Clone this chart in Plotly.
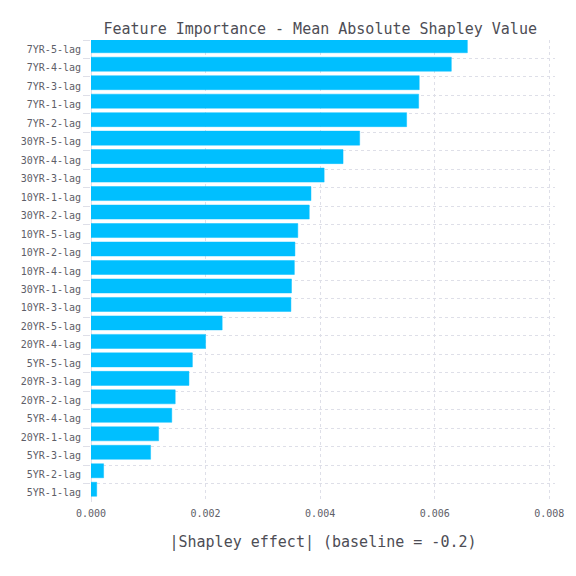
import plotly.graph_objects as go

# features, top to bottom
features = [
    "7YR-5-lag", "7YR-4-lag", "7YR-3-lag", "7YR-1-lag", "7YR-2-lag",
    "30YR-5-lag", "30YR-4-lag", "30YR-3-lag", "10YR-1-lag", "30YR-2-lag",
    "10YR-5-lag", "10YR-2-lag", "10YR-4-lag", "30YR-1-lag", "10YR-3-lag",
    "20YR-5-lag", "20YR-4-lag", "5YR-5-lag", "20YR-3-lag", "20YR-2-lag",
    "5YR-4-lag", "20YR-1-lag", "5YR-3-lag", "5YR-2-lag", "5YR-1-lag",
]
mean_abs_shap = [
    0.00657, 0.00629, 0.00573, 0.00572, 0.00551,
    0.00469, 0.00440, 0.00407, 0.00384, 0.00381,
    0.00361, 0.00356, 0.00355, 0.00350, 0.00349,
    0.00229, 0.00200, 0.00177, 0.00171, 0.00147,
    0.00141, 0.00118, 0.00104, 0.00022, 0.00010,
]
x_ticks = [0.0, 0.002, 0.004, 0.006, 0.008]

grid = "#dedfe8"
txt = "#4d4d55"
tick_txt = "#5e5e68"
mono = "DejaVu Sans Mono"

fig = go.Figure()
fig.add_trace(go.Bar(
    x=mean_abs_shap, y=features, orientation="h",
    offset=-0.57, width=0.76,
    marker=dict(color="#00bfff", line=dict(color="rgba(0,191,255,0.45)", width=1)),
))

# page body adds 8px, so the figure is 560 wide and margins are shifted
fig.update_layout(
    width=560, height=560,
    margin=dict(l=83, r=13, t=32, b=66),
    paper_bgcolor="white", plot_bgcolor="white",
    font=dict(family=mono, color=txt),
    showlegend=False,
    title=dict(text="Feature Importance - Mean Absolute Shapley Value",
               x=0.494, xref="paper", xanchor="center",
               y=1 - 21 / 560, yanchor="middle",
               font=dict(family=mono, size=15, color=txt)),
)
fig.update_xaxes(
    range=[0, 0.0081], tickvals=x_ticks, tickformat=".3f",
    ticks="outside", ticklen=2, tickcolor="rgba(0,0,0,0)",
    tickfont=dict(size=10, color=tick_txt),
    showgrid=True, gridcolor=grid, griddash="dot",
    zeroline=True, zerolinecolor=grid, zerolinewidth=1,
    automargin=False,
    title=dict(text="|Shapley effect| (baseline = -0.2)",
               font=dict(family=mono, size=15, color=txt), standoff=18),
)
fig.update_yaxes(
    categoryorder="array", categoryarray=features,
    range=[len(features) - 0.5, -0.5],
    tickson="boundaries", ticks="outside", ticklen=7, tickcolor=grid,
    ticklabelstandoff=9,
    tickfont=dict(size=10, color=tick_txt),
    showgrid=True, gridcolor=grid, griddash="dot",
    automargin=False,
)

fig.write_html("out.html")
